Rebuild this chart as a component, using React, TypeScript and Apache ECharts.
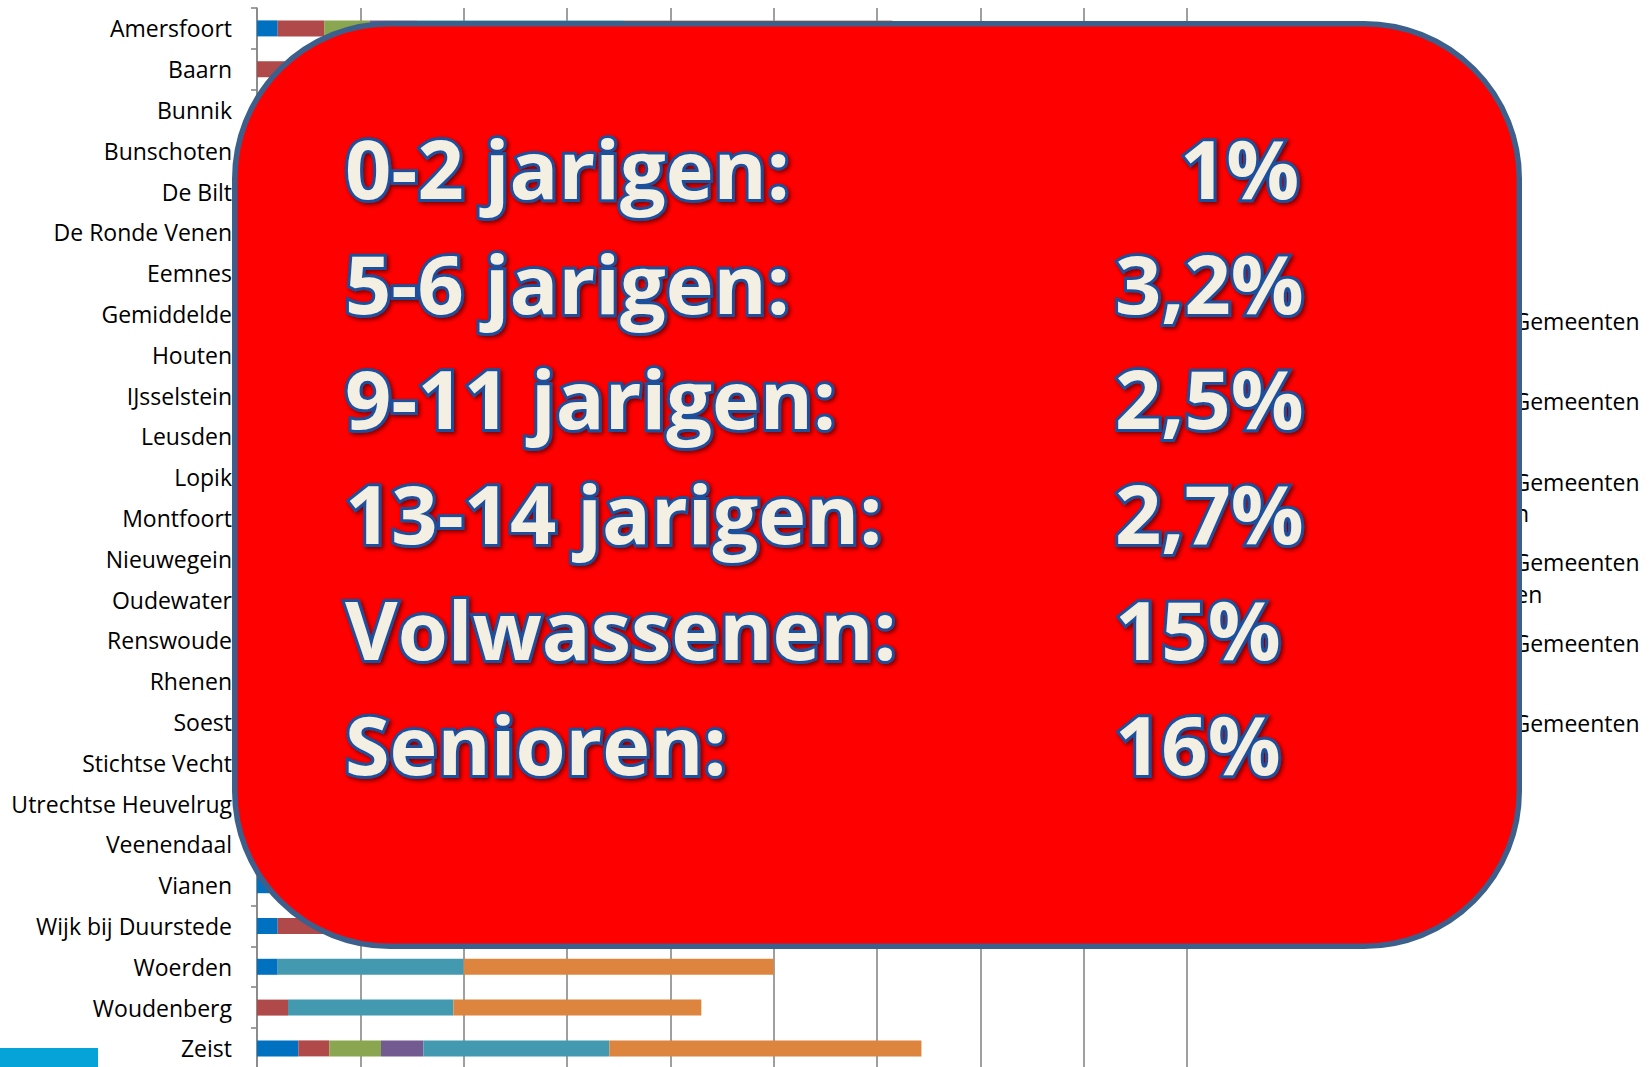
import React, { useEffect, useRef } from "react";
import * as echarts from "echarts";

const municipalities = [
  "Amersfoort", "Baarn", "Bunnik", "Bunschoten", "De Bilt", "De Ronde Venen", "Eemnes",
  "Gemiddelde", "Houten", "IJsselstein", "Leusden", "Lopik", "Montfoort", "Nieuwegein",
  "Oudewater", "Renswoude", "Rhenen", "Soest", "Stichtse Vecht", "Utrechtse Heuvelrug",
  "Veenendaal", "Vianen", "Wijk bij Duurstede", "Woerden", "Woudenberg", "Zeist",
];

const seriesNames = ["0-2 jarigen", "5-6 jarigen", "9-11 jarigen", "13-14 jarigen", "Volwassenen", "Senioren"];
const seriesColors = ["#0070C0", "#B0494A", "#8AA650", "#735A90", "#4399B0", "#DD843E"];

const age0to2 = [1.0, 0, 0.8, 0.5, 1.2, 0.9, 0.6, 1.0, 1.3, 1.1, 0.9, 0.4, 0.7, 1.4, 0.5, 0, 0.8, 1.2, 1.0, 0.9, 1.1, 0.8, 1.0, 1.0, 0, 2.0];
const age5to6 = [2.25, 2.0, 3.5, 2.8, 3.6, 3.0, 2.5, 3.2, 4.1, 3.3, 3.8, 2.6, 2.9, 3.4, 2.2, 1.8, 3.1, 3.9, 3.0, 3.5, 4.2, 3.3, 2.4, 0, 1.5, 1.5];
const age9to11 = [2.2, 2.6, 2.8, 2.0, 2.9, 2.3, 2.1, 2.5, 3.0, 2.7, 2.6, 1.9, 2.4, 2.8, 1.7, 2.0, 2.3, 2.9, 2.4, 2.7, 3.1, 2.5, 2.2, 0, 0, 2.5];
const age13to14 = [2.3, 2.4, 3.0, 2.2, 3.1, 2.6, 2.0, 2.7, 3.2, 2.9, 2.8, 2.1, 2.5, 3.0, 1.9, 2.2, 2.6, 3.3, 2.5, 2.9, 3.4, 2.7, 2.3, 0, 0, 2.05];
const adults = [10, 12, 13, 11, 14, 12, 12, 15, 14, 13, 13, 10, 12, 14, 11, 10, 12, 14, 13, 13, 14, 12, 12, 9, 8, 9];
const seniors = [13, 14, 15, 12, 16, 15, 13, 16, 15, 15, 14, 12, 13, 16, 12, 11, 14, 16, 15, 15, 16, 14, 13, 15, 12, 15.1];

const seriesValues = [age0to2, age5to6, age9to11, age13to14, adults, seniors];

const legendLine1 = "Utrechtse Gemeenten";
const legendLine2 = ["0-2 jarigen", "5-6 jarigen", "9-11 jarigen", "13-14 jarigen", "Volw.", "Senioren"];

const boxLabels = ["0-2 jarigen:", "5-6 jarigen:", "9-11 jarigen:", "13-14 jarigen:", "Volwassenen:", "Senioren:"];
const boxValues = ["1%", "3,2%", "2,5%", "2,7%", "15%", "16%"];

const FONT = "'Open Sans', 'Noto Sans', sans-serif";

export default function App() {
  const ref = useRef<HTMLDivElement>(null);

  useEffect(() => {
    if (!ref.current) return;
    const chart = echarts.init(ref.current, undefined, { renderer: "svg" });

    const boxTextStyle = {
      fill: "#F3F0E3",
      stroke: "#1F4F9C",
      lineWidth: 6,
      strokeFirst: true,
      fontFamily: FONT,
      fontWeight: "bold",
      fontSize: 81,
      textShadowColor: "rgba(0,0,0,0.55)",
      textShadowBlur: 4,
      textShadowOffsetX: 2,
      textShadowOffsetY: 2,
    };

    const texts: any[] = [];
    boxLabels.forEach((label, i) => {
      texts.push({
        type: "text",
        x: 345,
        y: 167 + i * 115.3,
        z: 101,
        style: { ...boxTextStyle, text: label, align: "left", verticalAlign: "middle" },
      });
      texts.push({
        type: "text",
        x: i === 0 ? 1180 : 1115,
        y: 167 + i * 115.3,
        z: 101,
        style: { ...boxTextStyle, text: boxValues[i], align: "left", verticalAlign: "middle" },
      });
    });

    chart.setOption({
      animation: false,
      textStyle: { fontFamily: FONT },
      legend: {
        orient: "vertical",
        left: 1384,
        top: 305,
        padding: 0,
        itemWidth: 14,
        itemHeight: 14,
        itemGap: 17.3,
        data: seriesNames,
        formatter: (name: string) => `${legendLine1}\n${legendLine2[seriesNames.indexOf(name)]}`,
        textStyle: { fontFamily: FONT, fontSize: 23, color: "#000", lineHeight: 31.6 },
      },
      grid: { left: 257, top: 8, width: 930, height: 1060.8, containLabel: false },
      xAxis: {
        type: "value",
        min: 0,
        max: 45,
        interval: 5,
        axisLabel: { show: false },
        axisLine: { show: false },
        axisTick: { show: false },
        splitLine: { show: true, lineStyle: { color: "#878787", width: 1.6 } },
      },
      yAxis: {
        type: "category",
        inverse: true,
        data: municipalities,
        axisLine: { show: true, lineStyle: { color: "#878787", width: 1.6 } },
        axisTick: { show: true, length: 6, lineStyle: { color: "#878787", width: 1.6 } },
        axisLabel: { fontFamily: FONT, fontSize: 23, color: "#000", margin: 25 },
      },
      series: seriesNames.map((name, i) => ({
        name,
        type: "bar",
        stack: "total",
        barWidth: 16,
        itemStyle: { color: seriesColors[i] },
        data: seriesValues[i],
      })),
      graphic: [
        {
          type: "rect",
          z: 100,
          shape: { x: 234.75, y: 23.75, width: 1284.5, height: 922.5, r: 155 },
          style: { fill: "#FF0000", stroke: "#3D5F8C", lineWidth: 5.5 },
        },
        ...texts,
        {
          type: "rect",
          z: 100,
          shape: { x: 0, y: 1048, width: 98, height: 30 },
          style: { fill: "#05A3D8" },
        },
      ],
    });

    return () => chart.dispose();
  }, []);

  return (
    <div style={{ position: "fixed", left: 0, top: 0, width: 1652, height: 1067, overflow: "hidden", background: "#fff" }}>
      <div ref={ref} style={{ width: 1652, height: 1110 }} />
    </div>
  );
}
